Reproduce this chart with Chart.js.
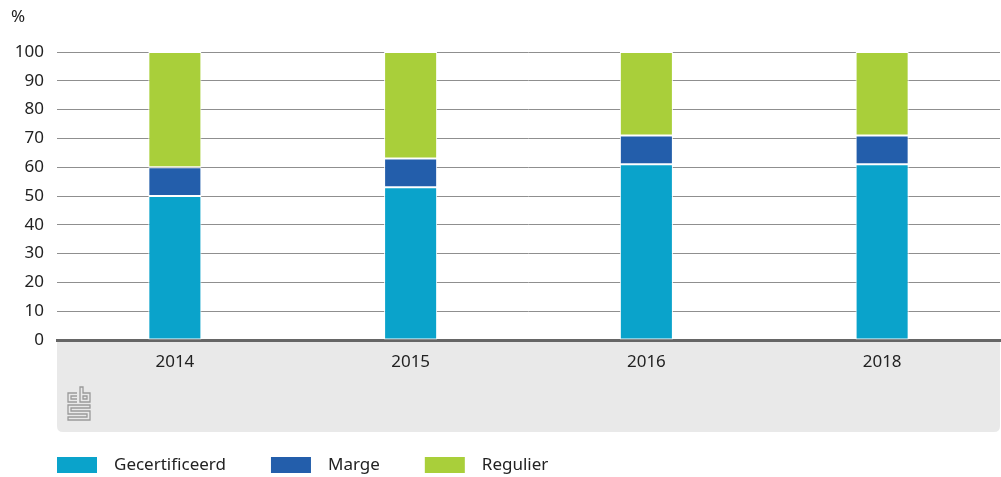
<!DOCTYPE html>
<html>
<head>
<meta charset="utf-8">
<script src="https://cdn.jsdelivr.net/npm/chart.js@4"></script>
<style>
  html, body { margin: 0; padding: 0; background: #fff; }
  #wrap { width: 1001px; height: 477px; position: relative; }
</style>
</head>
<body>
<div id="wrap"><canvas id="grafico" width="1001" height="477"></canvas></div>
<script>
const jaren = ['2014', '2015', '2016', '2018'];
const gecertificeerd = [50, 53, 61, 61];
const marge = [10, 10, 10, 10];
const regulier = [40, 37, 29, 29];
const yTicks = [0, 10, 20, 30, 40, 50, 60, 70, 80, 90, 100];

const FONT = '"Noto Sans", "DejaVu Sans", sans-serif';

// grijze band onder de x-as, logo, %-label en legenda
const extras = {
  id: 'extras',
  beforeDraw(chart){
    const {ctx, chartArea} = chart;
    const xs = chart.scales.x;
    const top = chartArea.bottom, bottom = xs.bottom, l = chartArea.left, r = chartArea.right, rad = 6;
    ctx.save();
    ctx.fillStyle = '#e9e9e9';
    ctx.beginPath();
    ctx.moveTo(l, top);
    ctx.lineTo(r, top);
    ctx.lineTo(r, bottom - rad);
    ctx.quadraticCurveTo(r, bottom, r - rad, bottom);
    ctx.lineTo(l + rad, bottom);
    ctx.quadraticCurveTo(l, bottom, l, bottom - rad);
    ctx.closePath();
    ctx.fill();

    // cbs-logo (vereenvoudigd)
    const ox = 68, oy = 387;
    ctx.strokeStyle = '#9a9a9a';
    ctx.lineWidth = 1.3;
    ctx.beginPath();
    // c
    ctx.moveTo(ox + 9, oy + 6); ctx.lineTo(ox, oy + 6); ctx.lineTo(ox, oy + 15); ctx.lineTo(ox + 9, oy + 15);
    ctx.moveTo(ox + 9, oy + 9); ctx.lineTo(ox + 3, oy + 9); ctx.lineTo(ox + 3, oy + 12); ctx.lineTo(ox + 9, oy + 12);
    // b
    ctx.moveTo(ox + 12, oy); ctx.lineTo(ox + 12, oy + 15); ctx.lineTo(ox + 22, oy + 15); ctx.lineTo(ox + 22, oy + 6); ctx.lineTo(ox + 15, oy + 6); ctx.lineTo(ox + 15, oy);  ctx.closePath();
    ctx.moveTo(ox + 15, oy + 9); ctx.lineTo(ox + 19, oy + 9); ctx.lineTo(ox + 19, oy + 12); ctx.lineTo(ox + 15, oy + 12); ctx.closePath();
    // s
    ctx.moveTo(ox + 22, oy + 18); ctx.lineTo(ox, oy + 18); ctx.lineTo(ox, oy + 27); ctx.lineTo(ox + 19, oy + 27); ctx.lineTo(ox + 19, oy + 30); ctx.lineTo(ox, oy + 30); ctx.lineTo(ox, oy + 33); ctx.lineTo(ox + 22, oy + 33); ctx.lineTo(ox + 22, oy + 24); ctx.lineTo(ox + 3, oy + 24); ctx.lineTo(ox + 3, oy + 21); ctx.lineTo(ox + 22, oy + 21); ctx.closePath();
    ctx.stroke();
    ctx.restore();
  },
  afterDraw(chart){
    const {ctx} = chart;
    ctx.save();
    ctx.font = '17px ' + FONT;
    ctx.fillStyle = '#222';
    ctx.textBaseline = 'middle';
    ctx.textAlign = 'left';
    ctx.fillText('%', 11, 17);

    // legenda
    let x = 57;
    const y = 465;
    chart.data.datasets.forEach(ds => {
      ctx.fillStyle = ds.backgroundColor;
      ctx.fillRect(x, y - 8, 40, 16);
      ctx.fillStyle = '#222';
      ctx.fillText(ds.label, x + 57, y);
      x += 57 + ctx.measureText(ds.label).width + 45;
    });
    ctx.restore();
  }
};

new Chart(document.getElementById('grafico').getContext('2d'), {
  type: 'bar',
  data: {
    labels: jaren,
    datasets: [
      {label: 'Gecertificeerd', data: gecertificeerd, backgroundColor: '#0aa3cb'},
      {label: 'Marge', data: marge, backgroundColor: '#235eab'},
      {label: 'Regulier', data: regulier, backgroundColor: '#a9cf3a'}
    ].map(d => Object.assign(d, {borderColor: '#ffffff', borderWidth: 1, borderSkipped: false, barPercentage: 0.225, categoryPercentage: 1}))
  },
  options: {
    responsive: false,
    animation: false,
    layout: {padding: {top: 52, right: 1, bottom: 45, left: 0}},
    plugins: {legend: {display: false}, tooltip: {enabled: false}},
    scales: {
      x: {
        stacked: true,
        grid: {display: false},
        border: {display: true, color: '#666', width: 3},
        ticks: {color: '#222', font: {family: FONT, size: 17}, padding: 4},
        afterFit(s){ s.height = 92; }
      },
      y: {
        stacked: true,
        min: 0, max: 100,
        afterBuildTicks(s){ s.ticks = yTicks.map(v => ({value: v})); },
        grid: {
          color: c => c.tick && c.tick.value === 0 ? 'rgba(0,0,0,0)' : '#8f8f8f',
          lineWidth: 1,
          drawTicks: false
        },
        border: {display: false},
        ticks: {color: '#222', font: {family: FONT, size: 17}, padding: 13},
        afterFit(s){ s.width = 57; }
      }
    }
  },
  plugins: [extras]
});
</script>
</body>
</html>
